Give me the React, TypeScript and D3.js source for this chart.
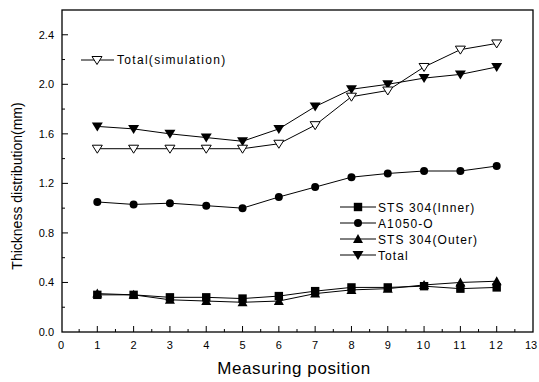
import React from "react";
import * as d3 from "d3";

const positions = [1, 2, 3, 4, 5, 6, 7, 8, 9, 10, 11, 12];
const stsInner = [0.30, 0.30, 0.28, 0.28, 0.27, 0.29, 0.33, 0.36, 0.36, 0.37, 0.35, 0.36];
const a1050 = [1.05, 1.03, 1.04, 1.02, 1.00, 1.09, 1.17, 1.25, 1.28, 1.30, 1.30, 1.34];
const stsOuter = [0.31, 0.30, 0.26, 0.25, 0.24, 0.25, 0.31, 0.34, 0.35, 0.38, 0.40, 0.41];
const total = [1.66, 1.64, 1.60, 1.57, 1.54, 1.64, 1.82, 1.96, 2.00, 2.05, 2.08, 2.14];
const totalSim = [1.48, 1.48, 1.48, 1.48, 1.48, 1.52, 1.67, 1.90, 1.95, 2.14, 2.28, 2.33];

const xTicks = [0, 1, 2, 3, 4, 5, 6, 7, 8, 9, 10, 11, 12, 13];
const yTicks = [0, 0.4, 0.8, 1.2, 1.6, 2.0, 2.4];

type Marker = "square" | "circle" | "up" | "down" | "downOpen";

const W = 539, H = 382;
const left = 62, right = 533, top = 10, bottom = 332;

const x = d3.scaleLinear().domain([0, 13]).range([left - 1, right]);
const y = d3.scaleLinear().domain([0, 2.6]).range([bottom, top]);

function Sym({ type, cx, cy }: { type: Marker; cx: number; cy: number }) {
  const s = 4.2;
  if (type === "square") return <rect x={cx - s} y={cy - s} width={2 * s} height={2 * s} fill="#000" />;
  if (type === "circle") return <circle cx={cx} cy={cy} r={4} fill="#000" />;
  if (type === "up")
    return <path d={`M${cx},${cy - 5} L${cx + 5},${cy + 4} L${cx - 5},${cy + 4} Z`} fill="#000" />;
  if (type === "down")
    return <path d={`M${cx},${cy + 5} L${cx + 5.5},${cy - 4} L${cx - 5.5},${cy - 4} Z`} fill="#000" />;
  return (
    <path
      d={`M${cx},${cy + 4.5} L${cx + 5},${cy - 3.5} L${cx - 5},${cy - 3.5} Z`}
      fill="#fff"
      stroke="#000"
      strokeWidth={1}
    />
  );
}

const series: { name: string; values: number[]; marker: Marker }[] = [
  { name: "STS 304(Inner)", values: stsInner, marker: "square" },
  { name: "A1050-O", values: a1050, marker: "circle" },
  { name: "STS 304(Outer)", values: stsOuter, marker: "up" },
  { name: "Total", values: total, marker: "down" },
  { name: "Total(simulation)", values: totalSim, marker: "downOpen" },
];

export default function App() {
  const line = d3
    .line<number>()
    .x((_, i) => x(positions[i]))
    .y((d) => y(d));
  const minorX = d3.range(0.5, 13, 1);
  const minorY = d3.range(0.2, 2.6, 0.4);
  const font = "'Liberation Sans', Arial, sans-serif";
  const legendItems = series.slice(0, 4);
  return (
    <svg width={W} height={H} style={{ position: "absolute", left: 0, top: 0, background: "#fff" }} fontFamily={font}>
      <rect x={0} y={0} width={W} height={H} fill="#fff" />
      {series.map((s) => (
        <g key={s.name}>
          <path d={line(s.values) || ""} fill="none" stroke="#000" strokeWidth={1} />
          {s.values.map((v, i) => (
            <Sym key={i} type={s.marker} cx={x(positions[i])} cy={y(v)} />
          ))}
        </g>
      ))}
      <rect x={left} y={top} width={right - left} height={bottom - top} fill="none" stroke="#000" strokeWidth={1.3} />
      {xTicks.map((t) => (
        <g key={"x" + t}>
          {t > 0 && t < 13 && <line x1={x(t)} x2={x(t)} y1={bottom} y2={bottom - 6} stroke="#000" />}
          <text
            x={t === 13 ? x(t) - 2 : x(t)}
            y={bottom + 17}
            fontSize={11}
            textAnchor="middle"
            letterSpacing={t >= 10 && t < 13 ? 1.5 : 0}
          >
            {t}
          </text>
        </g>
      ))}
      {minorX.map((t) => (
        <line key={"mx" + t} x1={x(t)} x2={x(t)} y1={bottom} y2={bottom - 3} stroke="#000" />
      ))}
      {yTicks.map((t) => (
        <g key={"y" + t}>
          {t > 0 && <line x1={left} x2={left + 6} y1={y(t)} y2={y(t)} stroke="#000" />}
          <text x={54} y={y(t) + 4} fontSize={11} textAnchor="end">
            {t.toFixed(1)}
          </text>
        </g>
      ))}
      {minorY.map((t) => (
        <line key={"my" + t} x1={left} x2={left + 3} y1={y(t)} y2={y(t)} stroke="#000" />
      ))}
      <text x={294} y={374} fontSize={17} textAnchor="middle" letterSpacing={0.6}>
        Measuring position
      </text>
      <text transform={`translate(22,186) rotate(-90)`} fontSize={14} textAnchor="middle">
        Thickness distribution(mm)
      </text>
      <g>
        <line x1={81} x2={114} y1={60} y2={60} stroke="#000" />
        <Sym type="downOpen" cx={97} cy={60} />
        <text x={117} y={64} fontSize={12} letterSpacing={1.3}>
          Total(simulation)
        </text>
      </g>
      {legendItems.map((s, i) => {
        const ly = 207 + i * 16;
        return (
          <g key={"l" + s.name}>
            <line x1={340} x2={376} y1={ly} y2={ly} stroke="#000" />
            <Sym type={s.marker} cx={358} cy={ly} />
            <text x={378} y={ly + 4.5} fontSize={12} letterSpacing={1.1}>
              {s.name}
            </text>
          </g>
        );
      })}
    </svg>
  );
}
